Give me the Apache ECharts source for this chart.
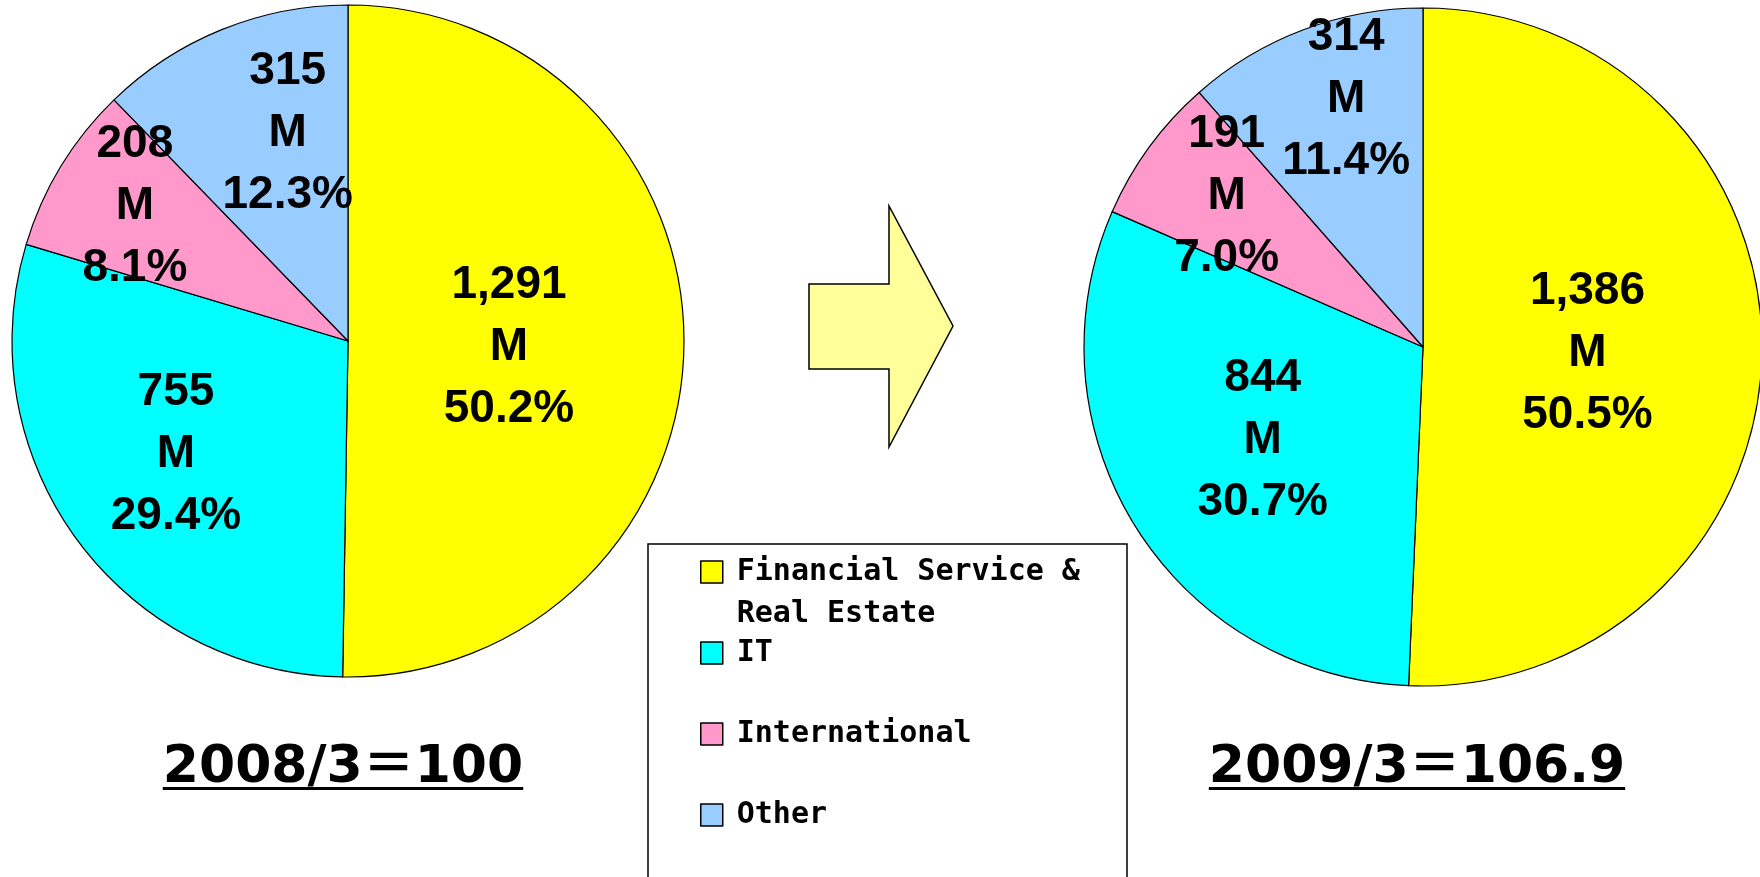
<!DOCTYPE html>
<html>
<head>
<meta charset="utf-8">
<title>Sales composition</title>
<script src="https://cdn.jsdelivr.net/npm/echarts@6/dist/echarts.min.js"></script>
<style>
  html, body { margin: 0; padding: 0; background: #fff; }
  #main { width: 1760px; height: 877px; }
</style>
</head>
<body>
<div id="main"></div>
<script>
// data
var categories = ['Financial Service &\nReal Estate', 'IT', 'International', 'Other'];
var values2008 = [1291, 755, 208, 315];
var values2009 = [1386, 844, 191, 314];
var pct2008 = ['50.2%', '29.4%', '8.1%', '12.3%'];
var pct2009 = ['50.5%', '30.7%', '7.0%', '11.4%'];
var titleTexts = ['2008/3＝100', '2009/3＝106.9'];

var colors = ['#ffff00', '#00ffff', '#ff99cc', '#99ccff'];
// nudges for the labels inside the slices
var shift2008 = [[-10, 5], [-34, 12], [-67, -46], [4, -49]];
var shift2009 = [[-8, 3], [-14, 2], [-57, -49], [-16, -86]];

var myChart = echarts.init(document.getElementById('main'));

var makeData = function(values, pcts){
  var arr = [];
  for (var i = 0; i < values.length; i++) {
    arr.push({
      name: categories[i],
      value: values[i],
      pct: pcts[i],
      itemStyle: { color: colors[i] }
    });
  }
  return arr;
};

var makePie = function(values, pcts, center, radius, shifts){
  return {
    type: 'pie',
    center: center,
    radius: radius,
    startAngle: 90,
    clockwise: true,
    avoidLabelOverlap: false,
    silent: true,
    itemStyle: { borderColor: '#000', borderWidth: 1.2 },
    label: {
      show: true,
      position: 'inside',
      color: '#000',
      fontFamily: 'Liberation Sans, Arial, sans-serif',
      fontWeight: 'bold',
      fontSize: 46,
      lineHeight: 62,
      align: 'center',
      formatter: function(p){
        return echarts.format.addCommas(p.value) + '\nM\n' + p.data.pct;
      }
    },
    labelLine: { show: false },
    labelLayout: function(p){
      return { dx: shifts[p.dataIndex][0], dy: shifts[p.dataIndex][1] };
    },
    emphasis: { disabled: true },
    data: makeData(values, pcts)
  };
};

// underline widths
var titleFont = 'bold 52px "DejaVu Sans", "Noto Sans CJK JP", sans-serif';
var measure = function(txt){
  var c = document.createElement('canvas').getContext('2d');
  c.font = titleFont;
  return c.measureText(txt).width;
};
var makeTitle = function(txt, cx){
  var w = measure(txt);
  return {
    type: 'group',
    children: [
      {
        type: 'text',
        x: cx, y: 768,
        style: {
          text: txt,
          font: titleFont,
          fill: '#000',
          align: 'center',
          verticalAlign: 'middle'
        }
      },
      {
        type: 'rect',
        shape: { x: cx - w / 2, y: 787, width: w, height: 3 },
        style: { fill: '#000' }
      }
    ]
  };
};

var option = {
  backgroundColor: '#fff',
  animation: false,
  legend: {
    orient: 'vertical',
    left: 700,
    top: 509,
    width: 420,
    height: 420,
    padding: 0,
    itemWidth: 22,
    itemHeight: 22,
    itemGap: -45,
    icon: 'rect',
    selectedMode: false,
    itemStyle: { borderColor: '#000', borderWidth: 1.5 },
    data: categories,
    // three lines per item so the first text line sits beside the icon
    formatter: function(name){
      var parts = name.split('\n');
      return ' \n' + parts[0] + '\n' + (parts[1] || ' ');
    },
    textStyle: {
      color: '#000',
      fontFamily: 'DejaVu Sans Mono, monospace',
      fontWeight: 'bold',
      fontSize: 30,
      lineHeight: 42,
      padding: [0, 0, 0, 9]
    }
  },
  graphic: [
    {
      type: 'rect',
      z: 0,
      shape: { x: 648, y: 544, width: 479, height: 360 },
      style: { fill: '#fff', stroke: '#000', lineWidth: 1.5 }
    },
    {
      type: 'polygon',
      shape: { points: [[809, 284], [889, 284], [889, 206], [953, 326], [889, 447], [889, 369], [809, 369]] },
      style: { fill: '#ffff99', stroke: '#000', lineWidth: 1.5 }
    },
    makeTitle(titleTexts[0], 343),
    makeTitle(titleTexts[1], 1417)
  ],
  series: [
    makePie(values2008, pct2008, [348, 341], 336, shift2008),
    makePie(values2009, pct2009, [1423, 347], 339, shift2009)
  ]
};

myChart.setOption(option);
</script>
</body>
</html>
